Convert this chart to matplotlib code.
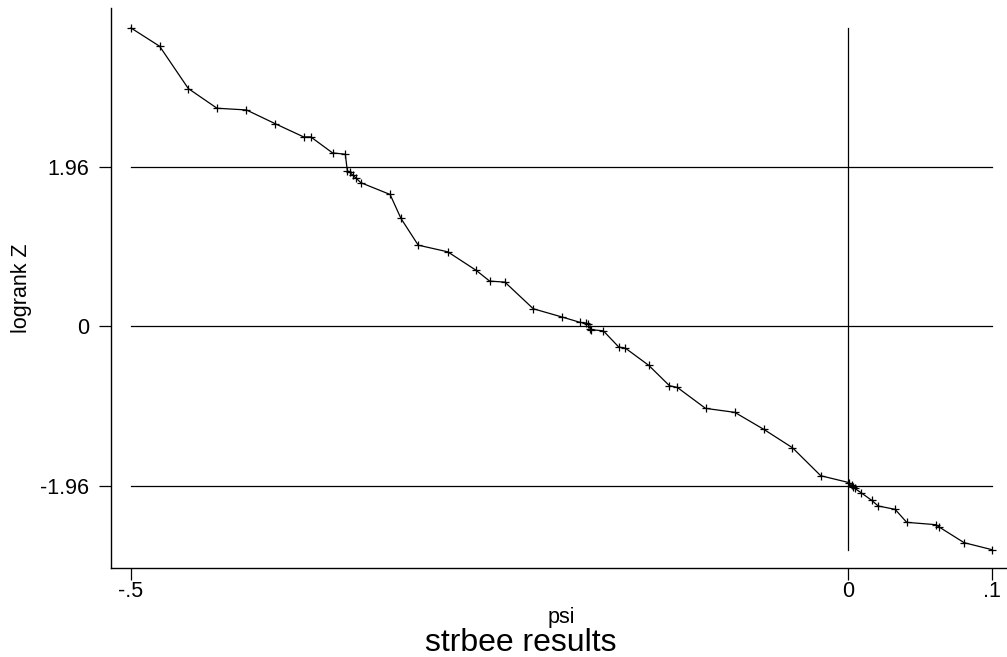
import numpy as np
import matplotlib
matplotlib.use("Agg")
import matplotlib.pyplot as plt

plt.rcParams['font.family'] = ['Liberation Sans', 'DejaVu Sans']

# psi grid and logrank Z values
psi = [-0.5, -0.48, -0.46, -0.44, -0.4195, -0.3997, -0.3797, -0.3747,
       -0.3595, -0.3506, -0.3492, -0.3475, -0.3454, -0.3433, -0.3398,
       -0.3194, -0.3118, -0.2998, -0.2792, -0.2593, -0.25, -0.2394,
       -0.2196, -0.1994, -0.1868, -0.1827, -0.1813, -0.18, -0.1797,
       -0.1708, -0.16, -0.1555, -0.1391, -0.1247, -0.1193, -0.0996,
       -0.0792, -0.059, -0.039, -0.0193, 0.0007, 0.0023, 0.0033, 0.0044,
       0.0088, 0.0162, 0.0207, 0.0325, 0.0406, 0.0611, 0.0629, 0.0806, 0.1]
logrank_z = [3.665, 3.44, 2.92, 2.678, 2.657, 2.49, 2.326, 2.326,
             2.129, 2.113, 1.91, 1.892, 1.855, 1.822, 1.763,
             1.618, 1.323, 0.995, 0.913, 0.684, 0.553, 0.541,
             0.213, 0.111, 0.045, 0.037, 0.025, -0.031, -0.043,
             -0.058, -0.258, -0.27, -0.483, -0.733, -0.753, -1.011,
             -1.06, -1.269, -1.495, -1.839, -1.925, -1.957, -1.978, -1.994,
             -2.048, -2.141, -2.211, -2.252, -2.412, -2.441, -2.466, -2.662, -2.748]

x_ticks = [-0.5, 0, 0.1]
x_ticklabels = ['-.5', '0', '.1']
y_ticks = [-1.96, 0, 1.96]
y_ticklabels = ['-1.96', '0', '1.96']

psi = np.asarray(psi)
logrank_z = np.asarray(logrank_z)

fig = plt.figure(figsize=(10.07, 6.57), dpi=100)
ax = fig.add_axes([0.1102, 0.1355, 0.8898, 0.8523])

# reference lines over the data range
for yv in y_ticks:
    ax.plot([psi.min(), psi.max()], [yv, yv], color='black', linewidth=0.9, zorder=1)
ax.plot([0, 0], [logrank_z.min(), logrank_z.max()], color='black', linewidth=0.9, zorder=1)

ax.plot(psi, logrank_z, color='black', linewidth=0.9, marker='+',
        markersize=6, markeredgewidth=0.9, zorder=2)

ax.set_xlim(-0.5139, 0.1105)
ax.set_ylim(-2.973, 3.91)

ax.spines['top'].set_visible(False)
ax.spines['right'].set_visible(False)
ax.spines['left'].set_linewidth(1.0)
ax.spines['bottom'].set_linewidth(1.0)

ax.set_xticks(x_ticks)
ax.set_xticklabels(x_ticklabels)
ax.set_yticks(y_ticks)
ax.set_yticklabels(y_ticklabels)
ax.tick_params(axis='both', direction='out', length=8.5, width=0.9, labelsize=15.5)
ax.tick_params(axis='y', pad=7)
ax.tick_params(axis='x', pad=1)

ax.set_xlabel('psi', fontsize=15.5)
ax.xaxis.set_label_coords(0.503, -0.089)
ax.xaxis.label.set_va('center')
ax.set_ylabel('logrank Z', fontsize=15.5)
ax.yaxis.set_label_coords(-0.1004, 0.5)
ax.yaxis.label.set_va('center')

fig.text(521 / 1007, 1 - 643 / 657, 'strbee results', ha='center', va='center', fontsize=23)

fig.savefig('out.png', dpi=100)
